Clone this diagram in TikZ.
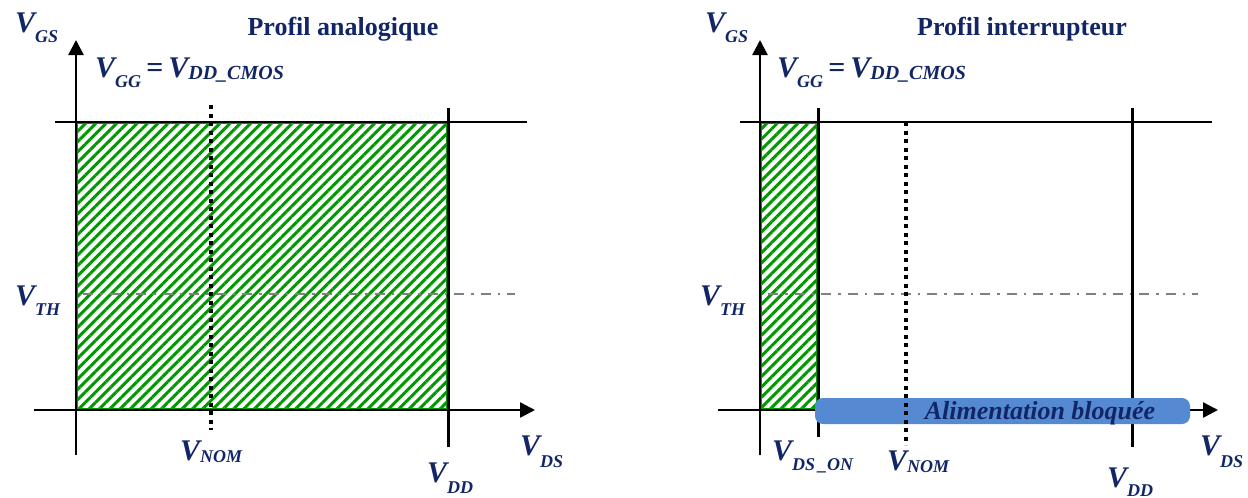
\documentclass[tikz,border=0pt]{standalone}
\usepackage{fontspec}
\setmainfont{Liberation Serif}
\usetikzlibrary{arrows.meta,patterns.meta}
\definecolor{navy}{RGB}{18,38,102}
\definecolor{hgreen}{RGB}{0,153,0}
\definecolor{barblue}{RGB}{85,138,211}
\definecolor{dgrey}{RGB}{128,128,128}
\newcommand{\Vbig}{\fontsize{30}{30}\selectfont\bfseries\itshape}
\newcommand{\Vsub}{\fontsize{18}{18}\selectfont\bfseries\itshape}
\newcommand{\Vmid}{\fontsize{20}{20}\selectfont\bfseries\itshape}
\newcommand{\VV}[2]{{\Vbig V}\raisebox{-#2pt}{\Vsub #1}}
\newcommand{\VGG}{{\Vbig V}\raisebox{-10pt}{\Vsub GG}{\Vbig\,=\,V}\raisebox{-2pt}{\Vmid DD\_CMOS}}
\begin{document}
\begin{tikzpicture}[x=1pt,y=-1pt,
  lab/.style={anchor=base west, inner sep=0pt, text=navy},
  ttl/.style={anchor=base, inner sep=0pt, text=navy, font=\fontsize{26}{26}\selectfont\bfseries},
  axis/.style={line width=2.5pt, -{Triangle[length=15pt,width=15pt]}},
  tick/.style={line width=3pt},
  gline/.style={line width=2pt},
  dotline/.style={line width=3.5pt, dash pattern=on 4pt off 4.5pt},
  dashdot/.style={dgrey, line width=2pt, dash pattern=on 10pt off 7pt on 2.5pt off 7pt},
  hatch/.style={draw=hgreen, line width=2pt, pattern={Lines[angle=45,distance=7.3pt,line width=3pt]}, pattern color=hgreen}]
\useasboundingbox (0,0) rectangle (1248,498);

% ---------- left panel ----------
\coordinate (LyB) at (76,455); \coordinate (LyT) at (76,40);
\coordinate (LxL) at (34,410); \coordinate (LxR) at (535,410);
\coordinate (LtL) at (55,122); \coordinate (LtR) at (527,122);
\coordinate (LdT) at (448,108); \coordinate (LdB) at (448,447);
\coordinate (LnT) at (211,105); \coordinate (LnB) at (211,430);
\coordinate (LhL) at (83,294); \coordinate (LhR) at (515,294);

\path[hatch] (77,123) rectangle (447,409);
\draw[dashdot] (LhL) -- (LhR);
\draw[axis] (LyB) -- (LyT);
\draw[axis] (LxL) -- (LxR);
\draw[gline] (LtL) -- (LtR);
\draw[tick] (LdT) -- (LdB);
\draw[dotline] (LnT) -- (LnB);

\node[ttl] (t1) at (343,35) {Profil analogique};
\node[lab] (l1) at (15,32) {\VV{GS}{10}};
\node[lab] (l2) at (95,77) {\VGG};
\node[lab] (l3) at (15,305) {\VV{TH}{10}};
\node[lab] (l4) at (180,460) {\VV{NOM}{2}};
\node[lab] (l5) at (427,482) {\VV{DD}{11}};
\node[lab] (l6) at (520,455) {\VV{DS}{12}};

% ---------- right panel ----------
\coordinate (RyB) at (760,455); \coordinate (RyT) at (760,40);
\coordinate (RxL) at (718,410); \coordinate (RxR) at (1218,410);
\coordinate (RtL) at (740,122); \coordinate (RtR) at (1212,122);
\coordinate (RoT) at (818,108); \coordinate (RoB) at (818,437);
\coordinate (RdT) at (1132,108); \coordinate (RdB) at (1132,447);
\coordinate (RnT) at (906,122); \coordinate (RnB) at (906,445);
\coordinate (RhL) at (768,294); \coordinate (RhR) at (1198,294);

\path[hatch] (761,123) rectangle (817,409);
\draw[dashdot] (RhL) -- (RhR);
\draw[axis] (RyB) -- (RyT);
\draw[axis] (RxL) -- (RxR);
\draw[gline] (RtL) -- (RtR);
\draw[tick] (RoT) -- (RoB);
\draw[tick] (RdT) -- (RdB);

\node[fill=barblue, rounded corners=8pt, minimum width=375pt, minimum height=26pt, inner sep=0pt] (bar) at (1002.5,411) {};
\draw[dotline] (RnT) -- (RnB);
\node[anchor=base, inner sep=0pt, text=navy, font=\fontsize{26}{26}\selectfont\bfseries\itshape] (bartxt) at (1040,419) {Alimentation bloquée};

\node[ttl] (t2) at (1022,35) {Profil interrupteur};
\node[lab] (r1) at (705,32) {\VV{GS}{10}};
\node[lab] (r2) at (777,77) {\VGG};
\node[lab] (r3) at (700,305) {\VV{TH}{10}};
\node[lab] (r4) at (772,460) {\VV{DS\,\_ON}{10}};
\node[lab] (r5) at (887,470) {\VV{NOM}{2}};
\node[lab] (r6) at (1107,487) {\VV{DD}{9}};
\node[lab] (r7) at (1200,455) {\VV{DS}{12}};
\end{tikzpicture}
\end{document}
